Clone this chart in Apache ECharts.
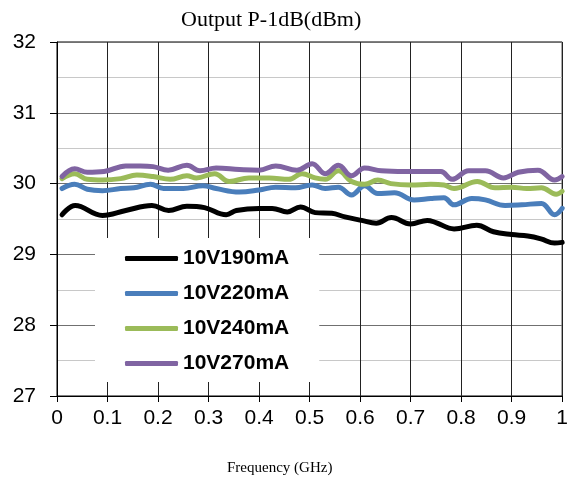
<!DOCTYPE html>
<html>
<head>
<meta charset="utf-8">
<title>Output P-1dB</title>
<script src="https://cdn.jsdelivr.net/npm/echarts@6/dist/echarts.min.js"></script>
<style>
  html, body { margin: 0; padding: 0; background: #fff; }
  #chart-content { width: 571px; height: 478px; }
</style>
</head>
<body>
<div id="chart-content"></div>
<script>
// 坐标刻度
var xTicks = [0, 0.1, 0.2, 0.3, 0.4, 0.5, 0.6, 0.7, 0.8, 0.9, 1];
var yTicks = [27, 28, 29, 30, 31, 32];
var seriesNames = ['10V190mA', '10V220mA', '10V240mA', '10V270mA'];

// 10V190mA
var freq190 = [0.01,0.036,0.09,0.136,0.188,0.221,0.257,0.292,0.335,0.355,0.40,0.426,0.456,0.482,0.511,0.544,0.57,0.603,0.632,0.662,0.70,0.733,0.75,0.786,0.831,0.864,0.90,0.932,0.958,0.985,1.0];
var p1db190 = [29.56,29.69,29.55,29.62,29.69,29.62,29.68,29.66,29.56,29.62,29.65,29.65,29.60,29.67,29.59,29.58,29.53,29.48,29.44,29.52,29.43,29.48,29.45,29.36,29.41,29.32,29.28,29.26,29.22,29.16,29.17];
// 10V220mA
var freq220 = [0.01,0.035,0.06,0.09,0.126,0.152,0.185,0.211,0.25,0.289,0.315,0.361,0.40,0.433,0.472,0.505,0.531,0.557,0.583,0.609,0.635,0.668,0.707,0.74,0.766,0.786,0.821,0.848,0.887,0.92,0.959,0.985,1.0];
var p1db220 = [29.93,29.99,29.92,29.90,29.93,29.94,29.99,29.93,29.93,29.97,29.93,29.88,29.91,29.95,29.94,29.98,29.93,29.95,29.84,29.97,29.86,29.87,29.77,29.79,29.80,29.70,29.79,29.77,29.69,29.70,29.72,29.56,29.65];
// 10V240mA
var freq240 = [0.01,0.035,0.06,0.09,0.126,0.158,0.19,0.224,0.257,0.276,0.312,0.341,0.38,0.42,0.459,0.485,0.511,0.531,0.557,0.583,0.609,0.635,0.661,0.70,0.74,0.766,0.786,0.832,0.867,0.90,0.93,0.959,0.988,1.0];
var p1db240 = [30.07,30.14,30.06,30.05,30.07,30.12,30.10,30.06,30.11,30.08,30.14,30.03,30.08,30.08,30.06,30.14,30.08,30.06,30.18,30.03,29.99,30.05,30.00,29.98,29.99,29.98,29.93,30.03,29.94,29.95,29.93,29.94,29.85,29.89];
// 10V270mA
var freq270 = [0.01,0.035,0.06,0.093,0.136,0.165,0.19,0.22,0.257,0.283,0.315,0.361,0.40,0.433,0.475,0.505,0.531,0.557,0.583,0.609,0.642,0.688,0.727,0.76,0.782,0.815,0.848,0.884,0.913,0.952,0.985,1.0];
var p1db270 = [30.10,30.21,30.16,30.17,30.25,30.25,30.24,30.19,30.26,30.18,30.22,30.20,30.19,30.25,30.19,30.28,30.14,30.26,30.11,30.22,30.18,30.17,30.17,30.17,30.06,30.18,30.18,30.08,30.16,30.19,30.05,30.10];

var view = {};

// 频率和数值配对
view.pairs = function (xs, ys) {
  var out = [];
  for (var i = 0; i < xs.length; i++) {
    out.push([xs[i], ys[i]]);
  }
  return out;
}

view.lineSeries = function (name, xs, ys, color) {
  return {
    name: name,
    type: 'line',
    smooth: 0.4,
    symbol: 'none',
    lineStyle: { width: 5, color: color, cap: 'round', join: 'round' },
    itemStyle: { color: color },
    data: view.pairs(xs, ys)
  };
}

view.loadChart = function () {
  var mychat = echarts.init(document.getElementById('chart-content'));
  var option = {
    animation: false,
    backgroundColor: '#fff',
    title: [
      {
        text: 'Output P-1dB(dBm)',
        left: 176,
        top: 4,
        textStyle: { fontFamily: 'Liberation Serif', fontWeight: 'normal', fontSize: 22, color: '#000' }
      },
      {
        text: 'Frequency (GHz)',
        left: 222,
        top: 456,
        textStyle: { fontFamily: 'Liberation Serif', fontWeight: 'normal', fontSize: 15, color: '#000' }
      }
    ],
    legend: {
      orient: 'vertical',
      left: 95,
      top: 238,
      padding: [10, 30, 8, 30],
      backgroundColor: '#fff',
      itemWidth: 53,
      itemHeight: 5,
      itemGap: 14,
      icon: 'roundRect',
      textStyle: { fontFamily: 'Liberation Sans', fontWeight: 'bold', fontSize: 21, color: '#000', lineHeight: 20.5, padding: [0, 0, 0, 0] },
      data: seriesNames
    },
    grid: {
      left: 57,
      right: 3,
      top: 42,
      bottom: 82,
      show: true,
      borderColor: '#000',
      borderWidth: 1,
      containLabel: false
    },
    xAxis: {
      type: 'value',
      min: xTicks[0],
      max: xTicks[xTicks.length - 1],
      interval: 0.1,
      axisLine: { show: true, lineStyle: { color: '#000', width: 1 } },
      axisTick: { show: true, length: 6, lineStyle: { color: '#000' } },
      axisLabel: {
        margin: 12,
        fontFamily: 'Liberation Sans',
        fontSize: 21,
        color: '#000',
        formatter: function (v) { return String(Math.round(v * 10) / 10); }
      },
      splitLine: { show: true, lineStyle: { color: '#222', width: 1 } }
    },
    yAxis: {
      type: 'value',
      min: yTicks[0],
      max: yTicks[yTicks.length - 1],
      interval: 1,
      axisLine: { show: true, lineStyle: { color: '#000', width: 1 } },
      axisTick: { show: true, length: 7, lineStyle: { color: '#000' } },
      axisLabel: {
        margin: 21,
        fontFamily: 'Liberation Sans',
        fontSize: 21,
        color: '#000'
      },
      splitLine: { show: true, lineStyle: { color: '#707070', width: 1 } },
      minorTick: { show: false, splitNumber: 2 },
      minorSplitLine: { show: true, lineStyle: { color: '#c8c8c8', width: 1 } }
    },
    series: [
      view.lineSeries(seriesNames[0], freq190, p1db190, '#000000'),
      view.lineSeries(seriesNames[1], freq220, p1db220, '#4a7ebb'),
      view.lineSeries(seriesNames[2], freq240, p1db240, '#9bbb59'),
      view.lineSeries(seriesNames[3], freq270, p1db270, '#8064a2')
    ]
  };
  mychat.setOption(option);
}

window.onload = function () {
  view.loadChart();
};
</script>
</body>
</html>
